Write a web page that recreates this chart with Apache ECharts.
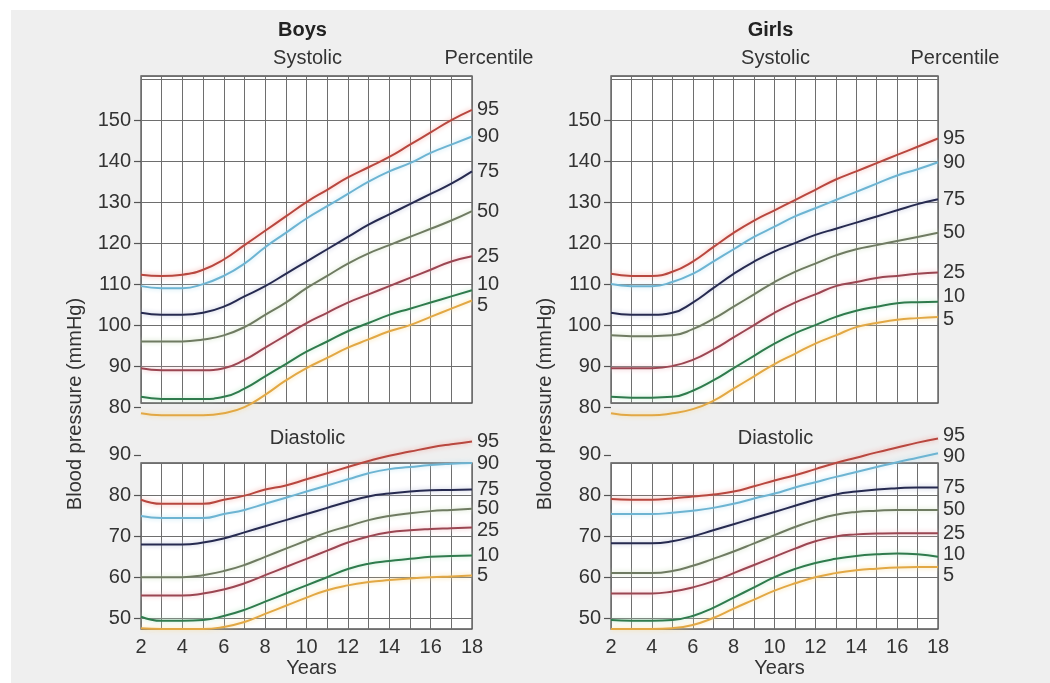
<!DOCTYPE html>
<html>
<head>
<meta charset="utf-8">
<script src="https://cdn.jsdelivr.net/npm/echarts@6/dist/echarts.min.js"></script>
<style>
  html, body { margin: 0; padding: 0; background: #ffffff; }
  #bg { position: absolute; left: 11px; top: 10px; right: 0; bottom: 0; background: #efefef; }
  #chart { position: absolute; left: 0; top: 0; width: 1050px; height: 683px; }
</style>
</head>
<body>
<div id="bg"></div>
<div id="chart"></div>
<script>
// ---------- data ----------
const years = [2, 3, 4, 5, 6, 7, 8, 9, 10, 11, 12, 13, 14, 15, 16, 17, 18];
const percentiles = ['95', '90', '75', '50', '25', '10', '5'];
const yearTicks = [2, 4, 6, 8, 10, 12, 14, 16, 18];
const systolicTicks = [80, 90, 100, 110, 120, 130, 140, 150];
const diastolicTicks = [50, 60, 70, 80, 90];

// rows follow percentiles order: 95, 90, 75, 50, 25, 10, 5
const boysSystolic = [
  [112.3, 112, 112.3, 113.5, 116, 119.5, 123, 126.5, 130, 133, 136, 138.5, 141, 144, 147, 150, 152.5],
  [109.5, 109, 109, 110, 112, 115, 119, 122.5, 126, 129, 132, 135, 137.5, 139.5, 142, 144, 146],
  [103, 102.5, 102.5, 103, 104.5, 107, 109.5, 112.5, 115.5, 118.5, 121.5, 124.5, 127, 129.5, 132, 134.5, 137.5],
  [96, 96, 96, 96.5, 97.5, 99.5, 102.5, 105.5, 109, 112, 115, 117.5, 119.5, 121.5, 123.5, 125.5, 127.8],
  [89.5, 89, 89, 89, 89.5, 91.5, 94.5, 97.5, 100.5, 103, 105.5, 107.5, 109.5, 111.5, 113.5, 115.5, 116.8],
  [82.5, 82, 82, 82, 82.5, 84.5, 87.5, 90.5, 93.5, 96, 98.5, 100.5, 102.5, 104, 105.5, 107, 108.5],
  [78.5, 78, 78, 78, 78.5, 80, 83, 86.5, 89.5, 92, 94.5, 96.5, 98.5, 100, 102, 104, 106]
];
const girlsSystolic = [
  [112.5, 112, 112, 113, 115.5, 119, 122.5, 125.5, 128, 130.5, 133, 135.5, 137.5, 139.5, 141.5, 143.5, 145.5],
  [110, 109.5, 109.5, 110.5, 112.5, 115.5, 118.5, 121.5, 124, 126.5, 128.5, 130.5, 132.5, 134.5, 136.5, 138, 139.7],
  [103, 102.5, 102.5, 103, 105.5, 109, 112.5, 115.5, 118, 120, 122, 123.5, 125, 126.5, 128, 129.5, 130.7],
  [97.5, 97.3, 97.3, 97.5, 99, 101.5, 104.5, 107.5, 110.5, 113, 115, 117, 118.5, 119.5, 120.5, 121.5, 122.5],
  [89.5, 89.5, 89.5, 90, 91.5, 94, 97, 100, 103, 105.5, 107.5, 109.5, 110.5, 111.5, 112, 112.5, 112.8],
  [82.5, 82.3, 82.3, 82.5, 84, 86.5, 89.5, 92.5, 95.5, 98, 100, 102, 103.5, 104.5, 105.3, 105.6, 105.7],
  [78.5, 78, 78, 78.5, 79.5, 81.5, 84.5, 87.5, 90.5, 93, 95.5, 97.5, 99.5, 100.5, 101.3, 101.7, 102]
];
const boysDiastolic = [
  [79, 78, 78, 78, 79, 80, 81.5, 82.5, 84, 85.5, 87, 88.5, 89.8, 90.8, 91.8, 92.6, 93.3],
  [75, 74.5, 74.5, 74.5, 75.5, 76.5, 78, 79.5, 81, 82.5, 84, 85.5, 86.5, 87, 87.5, 87.8, 88],
  [68, 68, 68, 68.5, 69.5, 71, 72.5, 74, 75.5, 77, 78.5, 79.8, 80.5, 81, 81.3, 81.4, 81.5],
  [60, 60, 60, 60.5, 61.5, 63, 65, 67, 69, 71, 72.5, 74, 75, 75.7, 76.2, 76.5, 76.8],
  [55.5, 55.5, 55.5, 56, 57, 58.5, 60.5, 62.5, 64.5, 66.5, 68.5, 70, 71, 71.5, 71.8, 72, 72.2],
  [50.3, 49.3, 49.3, 49.5, 50.5, 52, 54, 56, 58, 60, 62, 63.3, 64, 64.5, 65, 65.2, 65.3],
  [47.5, 47.3, 47.3, 47.3, 47.8, 49, 51, 53, 55, 56.8, 58, 58.8, 59.3, 59.7, 60, 60.2, 60.4]
];
const girlsDiastolic = [
  [79.2, 79, 79, 79.3, 79.8, 80.3, 81, 82.3, 83.7, 85, 86.5, 88, 89.3, 90.6, 91.8, 93, 94],
  [75.5, 75.5, 75.5, 75.8, 76.3, 77, 78, 79.3, 80.5, 82, 83.3, 84.6, 85.8, 87, 88.2, 89.3, 90.4],
  [68.3, 68.3, 68.3, 68.8, 70, 71.5, 73, 74.5, 76, 77.5, 79, 80.3, 81, 81.5, 81.8, 82, 82],
  [61, 61, 61, 61.5, 62.8, 64.5, 66.3, 68.3, 70.3, 72.3, 74, 75.3, 76, 76.3, 76.5, 76.5, 76.5],
  [56, 56, 56, 56.5, 57.5, 59, 61, 63, 65, 67, 68.8, 70, 70.5, 70.7, 70.8, 70.8, 70.8],
  [49.5, 49.3, 49.3, 49.5, 50.5, 52.5, 55, 57.5, 60, 62, 63.5, 64.5, 65.2, 65.6, 65.8, 65.6, 65],
  [47.3, 47.3, 47.3, 47.5, 48.3, 50, 52.3, 54.5, 56.7, 58.5, 60, 61, 61.7, 62.1, 62.4, 62.5, 62.5]
];

// ---------- styles / layout ----------
const lineColors = ['#b8473f', '#6db4d2', '#262a50', '#6f7b62', '#9b4652', '#2f7b4d', '#e2a845'];
const haloColors = ['#f2aaa2', '#b9e2f2', '#b7bdd8', '#cfe0c2', '#f0b9c0', '#b9e6c6', '#f7dc9a'];
const FONT = '"Liberation Sans", Arial, sans-serif';
const TXT = '#333333';
const FS = 20;

const panelDefs = [
  { title: 'Boys', left: 141, right: 472, sys: boysSystolic, dia: boysDiastolic,
    sysShift: [0, 0, 0, 0, 0, -6, 5], diaShift: [0, 0, 0, 0, 3, 0, 0] },
  { title: 'Girls', left: 611, right: 938, sys: girlsSystolic, dia: girlsDiastolic,
    sysShift: [0, 0, 0, 0, 0, -5, 3], diaShift: [-3, 3, 0, 0, 0, -2, 8] }
];
const SYS = { top: 76, bottom: 403, min: 81, max: 160.75 };
const DIA = { top: 463, bottom: 629, min: 47.3, max: 88 };

const grids = [], xAxes = [], yAxes = [], series = [], graphics = [];

function addBox(p, box, splitNumber, showX) {
  const gi = grids.length;
  grids.push({
    left: p.left, width: p.right - p.left, top: box.top, height: box.bottom - box.top,
    show: true, backgroundColor: '#ffffff', borderColor: '#555555', borderWidth: 1.3, z: 0
  });
  xAxes.push({
    type: 'value', gridIndex: gi, min: years[0], max: years[years.length - 1], interval: 1,
    axisLine: { show: false }, axisTick: { show: false },
    splitLine: { show: true, lineStyle: { color: '#6e6e6e', width: 1 } },
    axisLabel: {
      show: showX, margin: 8, fontSize: FS, color: TXT, fontFamily: FONT,
      formatter: v => (yearTicks.indexOf(v) >= 0 ? String(v) : '')
    }
  });
  yAxes.push({
    type: 'value', gridIndex: gi, min: box.min, max: box.max, splitNumber: splitNumber,
    axisLine: { show: false }, axisTick: { show: false }, axisLabel: { show: false },
    splitLine: { show: true, lineStyle: { color: '#6e6e6e', width: 1 } }
  });
  return gi;
}

function addLabelAxis(p, box, ticks) {
  const k = (box.bottom - box.top) / (box.max - box.min);
  const tMin = ticks[0], tMax = ticks[ticks.length - 1];
  const gi = grids.length;
  grids.push({
    left: p.left, width: p.right - p.left,
    top: box.top + (box.max - tMax) * k,
    height: (tMax - tMin) * k, show: false
  });
  xAxes.push({ type: 'value', gridIndex: gi, show: false, min: 0, max: 1 });
  yAxes.push({
    type: 'value', gridIndex: gi, min: tMin, max: tMax, interval: ticks[1] - ticks[0],
    axisLine: { show: false },
    axisTick: { show: true, length: 7, lineStyle: { color: '#555', width: 1.2 } },
    splitLine: { show: false },
    axisLabel: { margin: 10, fontSize: FS, color: TXT, fontFamily: FONT }
  });
}

function addSeries(gi, rows, shifts) {
  rows.forEach((row, r) => {
    series.push({
      type: 'line', name: percentiles[r], xAxisIndex: gi, yAxisIndex: gi,
      data: years.map((yr, j) => [yr, row[j]]),
      smooth: 0.5, symbol: 'none', clip: false, z: 10 - r,
      lineStyle: { color: lineColors[r], width: 2, shadowColor: haloColors[r], shadowBlur: 5 },
      endLabel: {
        show: true, formatter: '{a}', distance: 5, offset: [0, shifts[r]],
        color: TXT, fontSize: FS, fontFamily: FONT
      },
      emphasis: { disabled: true }
    });
  });
}

function addText(text, x, y, opts) {
  graphics.push(Object.assign({
    type: 'text', x: x, y: y, z: 100,
    style: Object.assign({
      text: text, fill: TXT, font: FS + 'px ' + FONT,
      textAlign: 'center', textVerticalAlign: 'middle'
    }, (opts && opts.style) || {})
  }, (opts && opts.extra) || {}));
}

panelDefs.forEach(p => {
  const sGi = addBox(p, SYS, 8, false);
  addLabelAxis(p, SYS, systolicTicks);
  const dGi = addBox(p, DIA, 4, true);
  addLabelAxis(p, DIA, diastolicTicks);
  addSeries(sGi, p.sys, p.sysShift);
  addSeries(dGi, p.dia, p.diaShift);

  const cx = (p.left + p.right) / 2;
  addText(p.title, cx - 4, 30, { style: { font: 'bold ' + FS + 'px ' + FONT, fill: '#222' } });
  addText('Systolic', cx + 1, 58);
  addText('Percentile', p.right + 17, 58);
  addText('Diastolic', cx + 1, 438);
  addText('Years', cx + 5, 668);
  addText('Blood pressure (mmHg)', p.left - 66, 404, { extra: { rotation: Math.PI / 2 } });
});

const chart = echarts.init(document.getElementById('chart'), null, { renderer: 'canvas' });
chart.setOption({
  animation: false,
  backgroundColor: 'transparent',
  grid: grids,
  xAxis: xAxes,
  yAxis: yAxes,
  series: series,
  graphic: graphics
});
</script>
</body>
</html>
